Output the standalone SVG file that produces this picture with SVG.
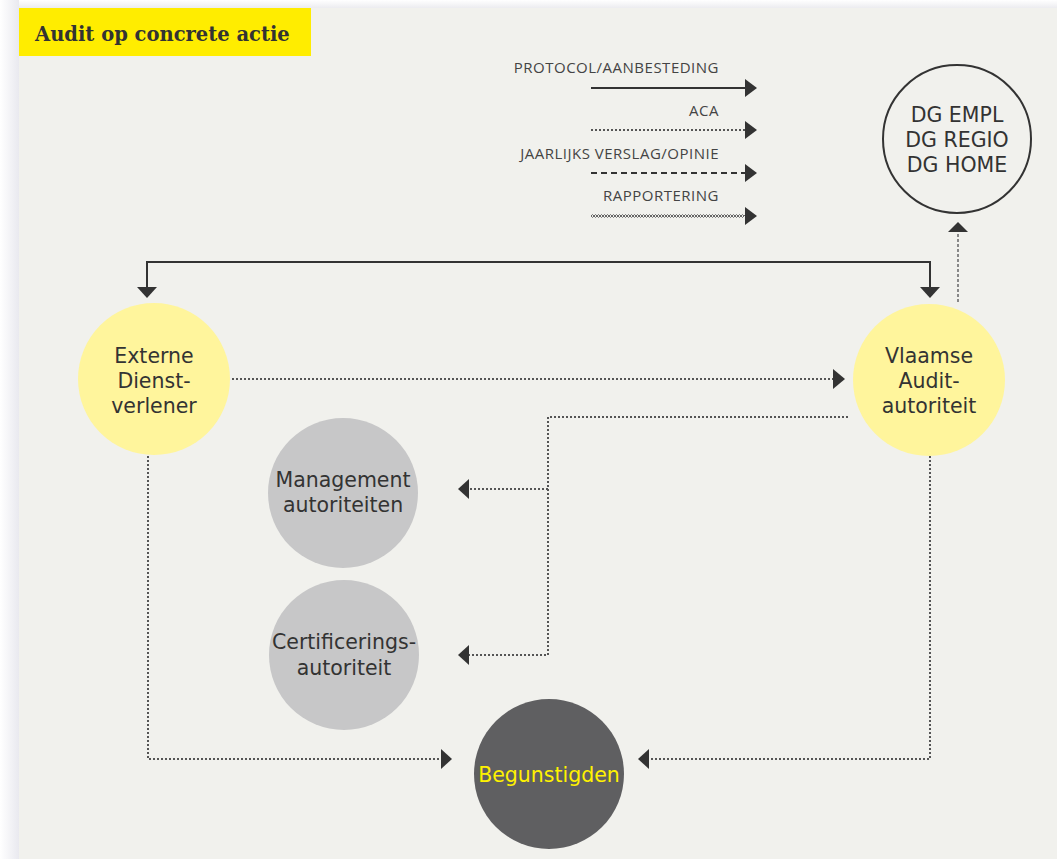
<svg xmlns="http://www.w3.org/2000/svg" width="1057" height="859" viewBox="0 0 1057 859">
<defs>
<linearGradient id="shL" x1="0" y1="0" x2="1" y2="0">
<stop offset="0" stop-color="#ffffff"/><stop offset="1" stop-color="#e9e9ef"/>
</linearGradient>
<linearGradient id="shT" x1="0" y1="0" x2="0" y2="1">
<stop offset="0" stop-color="#ffffff"/><stop offset="1" stop-color="#ececf0"/>
</linearGradient>
<marker id="ahs" viewBox="0 0 12 18" refX="1" refY="9" markerWidth="12" markerHeight="18" markerUnits="userSpaceOnUse" orient="auto">
<path d="M0,0 L12,9 L0,18 Z" fill="#333"/>
</marker>
</defs>
<style>
.lbl{font-family:"Open Sans","Liberation Sans",sans-serif;font-size:15px;letter-spacing:0.5px;fill:#444;text-anchor:end}
.nt{font-family:"DejaVu Sans","Liberation Sans",sans-serif;font-size:20.5px;fill:#333;text-anchor:middle}
.solid{fill:none;stroke:#333;stroke-width:2}
.dot{fill:none;stroke:#555;stroke-width:2;stroke-dasharray:2 2}
.dash{fill:none;stroke:#333;stroke-width:2;stroke-dasharray:6 4}
.gdash{fill:none;stroke:#888;stroke-width:2;stroke-dasharray:3 2}
.wave{fill:none;stroke:#666;stroke-width:1}
.yel{fill:#fff59c}
.gry{fill:#c7c7c8}
</style>
<rect width="1057" height="859" fill="#ffffff"/>
<rect x="0" y="0" width="19" height="859" fill="url(#shL)"/>
<rect x="19" y="0" width="1038" height="8" fill="url(#shT)"/>
<rect x="19" y="8" width="1038" height="851" fill="#f1f1ed"/>

<g id="title">
<rect x="19" y="8" width="292" height="48" fill="#ffed00"/>
<text x="35" y="41" font-family="DejaVu Serif,Liberation Serif,serif" font-weight="bold" font-size="19.5" fill="#333">Audit op concrete actie</text>
</g>

<g id="legend">
<text class="lbl" x="719" y="73">PROTOCOL/AANBESTEDING</text>
<line class="solid" x1="591" y1="88" x2="746" y2="88" marker-end="url(#ahs)"/>
<text class="lbl" x="719" y="116">ACA</text>
<line class="dot" x1="591" y1="130" x2="746" y2="130" marker-end="url(#ahs)"/>
<text class="lbl" x="719" y="159">JAARLIJKS VERSLAG/OPINIE</text>
<line class="dash" x1="591" y1="173" x2="746" y2="173" marker-end="url(#ahs)"/>
<text class="lbl" x="719" y="201">RAPPORTERING</text>
<path class="wave" d="M591,216 l1.5,-1.5 l1.5,1.5 l1.5,-1.5 l1.5,1.5 l1.5,-1.5 l1.5,1.5 l1.5,-1.5 l1.5,1.5 l1.5,-1.5 l1.5,1.5 l1.5,-1.5 l1.5,1.5 l1.5,-1.5 l1.5,1.5 l1.5,-1.5 l1.5,1.5 l1.5,-1.5 l1.5,1.5 l1.5,-1.5 l1.5,1.5 l1.5,-1.5 l1.5,1.5 l1.5,-1.5 l1.5,1.5 l1.5,-1.5 l1.5,1.5 l1.5,-1.5 l1.5,1.5 l1.5,-1.5 l1.5,1.5 l1.5,-1.5 l1.5,1.5 l1.5,-1.5 l1.5,1.5 l1.5,-1.5 l1.5,1.5 l1.5,-1.5 l1.5,1.5 l1.5,-1.5 l1.5,1.5 l1.5,-1.5 l1.5,1.5 l1.5,-1.5 l1.5,1.5 l1.5,-1.5 l1.5,1.5 l1.5,-1.5 l1.5,1.5 l1.5,-1.5 l1.5,1.5 l1.5,-1.5 l1.5,1.5 l1.5,-1.5 l1.5,1.5 l1.5,-1.5 l1.5,1.5 l1.5,-1.5 l1.5,1.5 l1.5,-1.5 l1.5,1.5 l1.5,-1.5 l1.5,1.5 l1.5,-1.5 l1.5,1.5 l1.5,-1.5 l1.5,1.5 l1.5,-1.5 l1.5,1.5 l1.5,-1.5 l1.5,1.5 l1.5,-1.5 l1.5,1.5 l1.5,-1.5 l1.5,1.5 l1.5,-1.5 l1.5,1.5 l1.5,-1.5 l1.5,1.5 l1.5,-1.5 l1.5,1.5 l1.5,-1.5 l1.5,1.5 l1.5,-1.5 l1.5,1.5 l1.5,-1.5 l1.5,1.5 l1.5,-1.5 l1.5,1.5 l1.5,-1.5 l1.5,1.5 l1.5,-1.5 l1.5,1.5 l1.5,-1.5 l1.5,1.5 l1.5,-1.5 l1.5,1.5 l1.5,-1.5 l1.5,1.5 l1.5,-1.5 l1.5,1.5 l1.5,-1.5 l1.5,1.5 l1.5,-1.5 l1.5,1.5 l1.5,-1.5 l1.5,1.5"/>
<path class="wave" d="M591,216 l1.5,1.5 l1.5,-1.5 l1.5,1.5 l1.5,-1.5 l1.5,1.5 l1.5,-1.5 l1.5,1.5 l1.5,-1.5 l1.5,1.5 l1.5,-1.5 l1.5,1.5 l1.5,-1.5 l1.5,1.5 l1.5,-1.5 l1.5,1.5 l1.5,-1.5 l1.5,1.5 l1.5,-1.5 l1.5,1.5 l1.5,-1.5 l1.5,1.5 l1.5,-1.5 l1.5,1.5 l1.5,-1.5 l1.5,1.5 l1.5,-1.5 l1.5,1.5 l1.5,-1.5 l1.5,1.5 l1.5,-1.5 l1.5,1.5 l1.5,-1.5 l1.5,1.5 l1.5,-1.5 l1.5,1.5 l1.5,-1.5 l1.5,1.5 l1.5,-1.5 l1.5,1.5 l1.5,-1.5 l1.5,1.5 l1.5,-1.5 l1.5,1.5 l1.5,-1.5 l1.5,1.5 l1.5,-1.5 l1.5,1.5 l1.5,-1.5 l1.5,1.5 l1.5,-1.5 l1.5,1.5 l1.5,-1.5 l1.5,1.5 l1.5,-1.5 l1.5,1.5 l1.5,-1.5 l1.5,1.5 l1.5,-1.5 l1.5,1.5 l1.5,-1.5 l1.5,1.5 l1.5,-1.5 l1.5,1.5 l1.5,-1.5 l1.5,1.5 l1.5,-1.5 l1.5,1.5 l1.5,-1.5 l1.5,1.5 l1.5,-1.5 l1.5,1.5 l1.5,-1.5 l1.5,1.5 l1.5,-1.5 l1.5,1.5 l1.5,-1.5 l1.5,1.5 l1.5,-1.5 l1.5,1.5 l1.5,-1.5 l1.5,1.5 l1.5,-1.5 l1.5,1.5 l1.5,-1.5 l1.5,1.5 l1.5,-1.5 l1.5,1.5 l1.5,-1.5 l1.5,1.5 l1.5,-1.5 l1.5,1.5 l1.5,-1.5 l1.5,1.5 l1.5,-1.5 l1.5,1.5 l1.5,-1.5 l1.5,1.5 l1.5,-1.5 l1.5,1.5 l1.5,-1.5 l1.5,1.5 l1.5,-1.5"/>
<path d="M745,207 L757,216 L745,225 Z" fill="#333"/>
</g>

<g id="connectors">
<polyline class="solid" points="147,287 147,262 930,262 930,287"/>
<path d="M137,287 L157,287 L147,298 Z" fill="#333"/>
<path d="M920,287 L940,287 L930,298 Z" fill="#333"/>
<line class="gdash" x1="958" y1="302" x2="958" y2="232"/>
<path d="M948,232 L968,232 L958,222 Z" fill="#333"/>
<line class="dot" x1="232" y1="379" x2="833" y2="379"/>
<path d="M833,369 L845,379 L833,389 Z" fill="#333"/>
<polyline class="dot" points="848,417 548,417 548,655 469,655"/>
<line class="dot" x1="548" y1="489" x2="469" y2="489"/>
<path d="M469,479 L458,489 L469,499 Z" fill="#333"/>
<path d="M469,645 L458,655 L469,665 Z" fill="#333"/>
<polyline class="dot" points="148,456 148,759 441,759"/>
<path d="M441,749 L452,759 L441,769 Z" fill="#333"/>
<polyline class="dot" points="930,456 930,759 649,759"/>
<path d="M649,749 L638,759 L649,769 Z" fill="#333"/>
</g>

<g id="dg">
<circle cx="957" cy="139" r="74" fill="none" stroke="#333" stroke-width="2"/>
<text class="nt" x="957" y="122" font-size="20.5">DG EMPL</text>
<text class="nt" x="957" y="147" font-size="20.5">DG REGIO</text>
<text class="nt" x="957" y="172" font-size="20.5">DG HOME</text>
</g>

<g id="externe">
<circle class="yel" cx="154" cy="379" r="76"/>
<text class="nt" x="154" y="363">Externe</text>
<text class="nt" x="154" y="388">Dienst-</text>
<text class="nt" x="154" y="413">verlener</text>
</g>

<g id="vlaamse">
<circle class="yel" cx="929" cy="380" r="76"/>
<text class="nt" x="929" y="363">Vlaamse</text>
<text class="nt" x="929" y="388">Audit-</text>
<text class="nt" x="929" y="413">autoriteit</text>
</g>

<g id="management">
<circle class="gry" cx="343" cy="493" r="75"/>
<text class="nt" x="343" y="487" font-size="18">Management</text>
<text class="nt" x="343" y="512" font-size="18">autoriteiten</text>
</g>

<g id="certificering">
<circle class="gry" cx="344" cy="655" r="75"/>
<text class="nt" x="344" y="649" font-size="19">Certificerings-</text>
<text class="nt" x="344" y="675" font-size="19">autoriteit</text>
</g>

<g id="begunstigden">
<circle cx="549" cy="774" r="75" fill="#5f5f61"/>
<text class="nt" x="549" y="782" style="fill:#fff200">Begunstigden</text>
</g>
</svg>
